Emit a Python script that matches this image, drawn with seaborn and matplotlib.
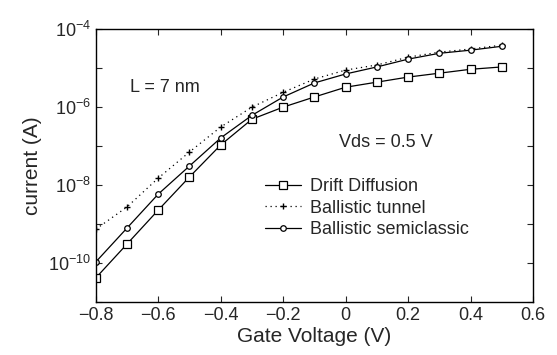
import numpy as np
import pandas as pd
import seaborn as sns
from matplotlib import pyplot as plt

sns.set_style("ticks")
plt.rcParams['font.family'] = ['Liberation Sans', 'DejaVu Sans']
plt.rcParams['mathtext.fontset'] = 'custom'
plt.rcParams['mathtext.rm'] = 'Liberation Sans'

# gate voltage (V)
vg = [-0.8, -0.7, -0.6, -0.5, -0.4, -0.3, -0.2, -0.1, 0.0, 0.1, 0.2, 0.3, 0.4, 0.5]

# log10 of current (A)
drift_log = [-10.38, -9.51, -8.64, -7.79, -6.97, -6.31, -6.00, -5.74, -5.49, -5.36, -5.23, -5.13, -5.03, -4.97]
tunnel_log = [-9.13, -8.56, -7.82, -7.15, -6.51, -6.00, -5.62, -5.28, -5.05, -4.92, -4.72, -4.59, -4.51, -4.41]
semi_log = [-9.97, -9.10, -8.23, -7.51, -6.79, -6.21, -5.74, -5.38, -5.15, -4.97, -4.77, -4.62, -4.54, -4.44]

labels = ['Drift Diffusion', 'Ballistic tunnel', 'Ballistic semiclassic']

fig = plt.figure(figsize=(5.57, 3.55), dpi=100)
ax = fig.add_axes([0.172, 0.149, 0.785, 0.769])

sns.lineplot(x=vg, y=10 ** np.array(drift_log), ax=ax, color='black', lw=0.9,
             marker='s', markersize=6, markerfacecolor='white', markeredgecolor='black',
             markeredgewidth=0.9, label=labels[0])
sns.lineplot(x=vg, y=10 ** np.array(tunnel_log), ax=ax, color='black', lw=0.9,
             linestyle=(0, (1, 3)), marker='+', markersize=5, markeredgewidth=1.0,
             markeredgecolor='black', label=labels[1])
sns.lineplot(x=vg, y=10 ** np.array(semi_log), ax=ax, color='black', lw=0.9,
             marker='o', markersize=4, markerfacecolor='white', markeredgecolor='black',
             markeredgewidth=0.9, label=labels[2])

ax.set_yscale('log')
ax.set_xlim(-0.8, 0.6)
ax.set_ylim(1e-11, 1e-4)
ax.set_xticks([-0.8, -0.6, -0.4, -0.2, 0, 0.2, 0.4, 0.6])
ax.set_xticklabels(['\u22120.8', '\u22120.6', '\u22120.4', '\u22120.2', '0', '0.2', '0.4', '0.6'])
ydec = [1e-11, 1e-10, 1e-9, 1e-8, 1e-7, 1e-6, 1e-5, 1e-4]
ax.set_yticks(ydec)
ax.set_yticklabels(['', r'$10^{-10}$', '', r'$10^{-8}$', '', r'$10^{-6}$', '', r'$10^{-4}$'])
ax.minorticks_off()
ax.tick_params(direction='in', top=True, right=True, length=4, width=0.8, labelsize=13)
for s in ax.spines.values():
    s.set_color('black')
    s.set_linewidth(1.0)

ax.set_xlabel('Gate Voltage (V)', fontsize=15, labelpad=2)
ax.set_ylabel('current (A)', fontsize=15, labelpad=4)

ax.text(-0.69, 10 ** -5.5, 'L = 7 nm', fontsize=13, va='center')
ax.text(-0.02, 10 ** -6.9, 'Vds = 0.5 V', fontsize=13, va='center')

ax.legend(loc='upper left', bbox_to_anchor=(0.37, 0.48), frameon=False, fontsize=13,
          handlelength=2.0, handletextpad=0.5, labelspacing=0.25, borderaxespad=0)

fig.savefig('out.png', dpi=100)
